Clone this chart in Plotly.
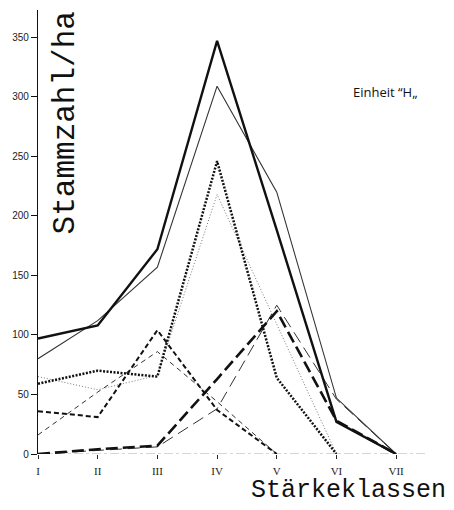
import plotly.graph_objects as go

categories = ["I", "II", "III", "IV", "V", "VI", "VII"]
y_ticks = [0, 50, 100, 150, 200, 250, 300, 350]

thick_solid = [97, 108, 172, 347, 188, 27, 0]
thin_solid = [80, 112, 157, 309, 220, 47, 0]
thick_dotted = [59, 70, 65, 246, 64, 0, None]
thin_dotted = [65, 54, 66, 218, 109, 0, None]
medium_dashed = [36, 31, 104, 37, 0, None, None]
thin_dashed = [16, 52, 86, 44, 0, None, None]
thick_longdash = [0, 4, 7, 63, 120, 28, 0]
thin_longdash = [0, 3, 6, 38, 125, 46, 0]

series = [
    (thin_dotted, dict(color="#777", width=1, dash="1px,2px")),
    (thin_dashed, dict(color="#333", width=1, dash="5px,4px")),
    (thin_longdash, dict(color="#333", width=1, dash="12px,6px")),
    (thin_solid, dict(color="#333", width=1.1, dash="solid")),
    (medium_dashed, dict(color="#111", width=2, dash="5px,3px")),
    (thick_dotted, dict(color="#111", width=2.5, dash="2px,1.5px")),
    (thick_longdash, dict(color="#111", width=2.6, dash="12px,5px")),
    (thick_solid, dict(color="#111", width=2.4, dash="solid")),
]

fig = go.Figure()
for vals, ln in series:
    fig.add_trace(go.Scatter(x=categories, y=vals, mode="lines", line=ln,
                             cliponaxis=False, connectgaps=False,
                             hoverinfo="skip", showlegend=False))

fig.add_shape(type="line", xref="paper", yref="y", x0=0, x1=1, y0=0, y1=0,
              line=dict(color="#aaa", width=1, dash="dashdot"), layer="below")

fig.add_annotation(text="Stammzahl/ha", xref="paper", yref="paper",
                   x=0.07, y=0.745, xanchor="center", yanchor="middle",
                   textangle=-90, showarrow=False,
                   font=dict(family="Liberation Mono, monospace", size=31, color="#111"))
fig.add_annotation(text="Stärkeklassen", xref="paper", yref="paper",
                   x=0.80, y=-0.083, xanchor="center", yanchor="middle",
                   showarrow=False,
                   font=dict(family="Liberation Mono, monospace", size=25, color="#111"))
fig.add_annotation(text="Einheit “H„", xref="paper", yref="paper",
                   x=0.894, y=0.815, xanchor="center", yanchor="middle",
                   showarrow=False,
                   font=dict(family="Open Sans, sans-serif", size=13, color="#111"))

fig.update_layout(
    width=454, height=510,
    margin=dict(l=38, r=28, t=10, b=56),
    paper_bgcolor="white", plot_bgcolor="white",
    showlegend=False, hovermode=False,
)
fig.update_xaxes(type="category", range=[0, 6.5], showgrid=False, zeroline=False,
                 showline=False, ticks="outside", ticklen=4, tickcolor="#222",
                 tickfont=dict(family="Liberation Serif, serif", size=11, color="#222"),
                 ticklabelstandoff=3)
fig.update_yaxes(range=[0, 373], tickvals=y_ticks, showgrid=False, zeroline=False,
                 showline=True, linecolor="#111", linewidth=1.2,
                 ticks="outside", ticklen=6, tickcolor="#111",
                 tickfont=dict(family="Liberation Sans, sans-serif", size=10, color="#222"))

fig.write_html("out.html")
